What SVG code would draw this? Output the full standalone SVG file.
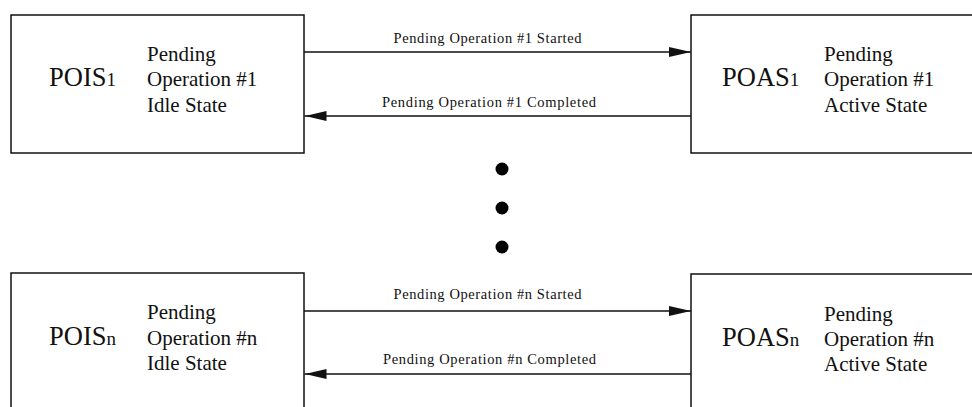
<svg xmlns="http://www.w3.org/2000/svg" width="972" height="407" viewBox="0 0 972 407">
  <style>
    .box { fill: #fff; stroke: #111; stroke-width: 1.5; }
    text { font-family: 'Liberation Serif', 'Times New Roman', Times, serif; fill: #111; }
    .name { font-size: 26.5px; }
    .idx { font-size: 19px; }
    .desc { font-size: 21px; }
    .lbl { font-size: 14.5px; text-anchor: middle; }
    .wire { stroke: #111; stroke-width: 1.3; fill: none; }
    .dot { fill: #000; }
  </style>
  <defs>
    <marker id="head" viewBox="0 0 22 10" refX="22" refY="5" markerWidth="22" markerHeight="10" markerUnits="userSpaceOnUse" orient="auto">
      <path d="M0,0 L22,5 L0,10 Z" fill="#111"/>
    </marker>
  </defs>

  <rect width="972" height="407" fill="#fff"/>

  <!-- idle state, operation 1 -->
  <g id="pois1">
    <rect class="box" x="11" y="15" width="293" height="138"/>
    <text class="name" x="49" y="86">POIS<tspan class="idx">1</tspan></text>
    <text class="desc" x="147" y="60.5">Pending</text>
    <text class="desc" x="147" y="86">Operation #1</text>
    <text class="desc" x="147" y="111.5">Idle State</text>
  </g>

  <!-- active state, operation 1 (runs past the right edge) -->
  <g id="poas1">
    <rect class="box" x="691" y="15" width="300" height="138"/>
    <text class="name" x="722" y="86">POAS<tspan class="idx">1</tspan></text>
    <text class="desc" x="824" y="60.5">Pending</text>
    <text class="desc" x="824" y="86">Operation #1</text>
    <text class="desc" x="824" y="111.5">Active State</text>
  </g>

  <!-- idle state, operation n (runs past the bottom edge) -->
  <g id="poisn">
    <rect class="box" x="11" y="273" width="293" height="150"/>
    <text class="name" x="49" y="344.5">POIS<tspan class="idx">n</tspan></text>
    <text class="desc" x="147" y="319">Pending</text>
    <text class="desc" x="147" y="344.5">Operation #n</text>
    <text class="desc" x="147" y="370">Idle State</text>
  </g>

  <!-- active state, operation n -->
  <g id="poasn">
    <rect class="box" x="691" y="274" width="300" height="150"/>
    <text class="name" x="722" y="346">POAS<tspan class="idx">n</tspan></text>
    <text class="desc" x="824" y="321">Pending</text>
    <text class="desc" x="824" y="346">Operation #n</text>
    <text class="desc" x="824" y="371">Active State</text>
  </g>

  <!-- ellipsis between the pairs -->
  <g id="ellipsis">
    <circle class="dot" cx="502" cy="169" r="6.5"/>
    <circle class="dot" cx="502" cy="208" r="6.5"/>
    <circle class="dot" cx="502" cy="247" r="6.5"/>
  </g>

  <g id="connectors">
    <line class="wire" x1="304" y1="52" x2="691" y2="52" marker-end="url(#head)"/>
    <text class="lbl" x="487.5" y="43" textLength="188">Pending Operation #1 Started</text>
    <line class="wire" x1="691" y1="116" x2="304.5" y2="116" marker-end="url(#head)"/>
    <text class="lbl" x="489" y="107" textLength="214">Pending Operation #1 Completed</text>

    <line class="wire" x1="304" y1="311" x2="691" y2="311" marker-end="url(#head)"/>
    <text class="lbl" x="487.5" y="299" textLength="188">Pending Operation #n Started</text>
    <line class="wire" x1="691" y1="374" x2="304.5" y2="374" marker-end="url(#head)"/>
    <text class="lbl" x="489.5" y="364" textLength="213">Pending Operation #n Completed</text>
  </g>
</svg>
